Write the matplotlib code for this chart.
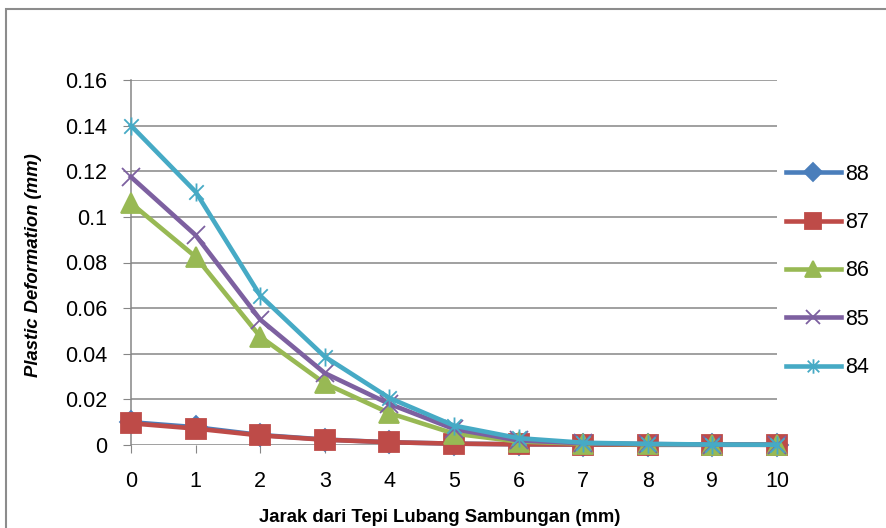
import matplotlib.pyplot as plt
import matplotlib.patches as patches
from matplotlib.path import Path

# -------------------------------
# Data
# -------------------------------
jarak = [0, 1, 2, 3, 4, 5, 6, 7, 8, 9, 10]
labels = ['88', '87', '86', '85', '84']

def_88 = [0.0100, 0.0078, 0.0044, 0.0024, 0.0012, 0.0006, 0.0003, 0.0002, 0.0001, 0.0001, 0.0001]
def_87 = [0.0095, 0.0072, 0.0042, 0.0023, 0.0012, 0.0006, 0.0003, 0.0002, 0.0001, 0.0001, 0.0001]
def_86 = [0.106, 0.0825, 0.0475, 0.027, 0.014, 0.005, 0.0015, 0.0006, 0.0003, 0.0002, 0.0001]
def_85 = [0.1175, 0.092, 0.055, 0.0315, 0.0180, 0.0070, 0.0020, 0.0008, 0.0004, 0.0002, 0.0001]
def_84 = [0.140, 0.111, 0.0655, 0.0387, 0.0206, 0.0085, 0.0030, 0.0010, 0.0005, 0.0002, 0.0001]

yticks = [0, 0.02, 0.04, 0.06, 0.08, 0.1, 0.12, 0.14, 0.16]
ytick_labels = ['0', '0.02', '0.04', '0.06', '0.08', '0.1', '0.12', '0.14', '0.16']

# Excel-like asterisk marker (x + vertical bar)
star = Path([(-1, -1), (1, 1), (-1, 1), (1, -1), (0, -1.25), (0, 1.25)],
            [Path.MOVETO, Path.LINETO, Path.MOVETO, Path.LINETO, Path.MOVETO, Path.LINETO])

series = [
    (def_88, '#4A7EBB', 'D', 11),
    (def_87, '#BE4B48', 's', 14),
    (def_86, '#98B954', '^', 14),
    (def_85, '#7D60A0', 'x', 13),
    (def_84, '#46AAC5', star, 13),
]

plt.rcParams['font.family'] = ['Liberation Sans', 'DejaVu Sans']

fig = plt.figure(figsize=(8.87, 5.28), dpi=100)
ax = fig.add_axes([131 / 887, 1 - 445 / 528, 646 / 887, 365 / 528])

# cornice esterna del grafico
fig.patches.append(patches.Rectangle((6 / 887, -0.05), 1.0, 1 - 9 / 528 + 0.05,
                                     transform=fig.transFigure, fill=False,
                                     edgecolor='#8C8C8C', linewidth=1.5))

for (vals, col, mk, ms), lab in zip(series, labels):
    ax.plot(jarak, vals, color=col, linewidth=3.3, marker=mk, markersize=ms,
            markerfacecolor=col, markeredgecolor=col, markeredgewidth=1.3,
            label=lab, clip_on=False, zorder=3)

ax.set_xlim(0, 10)
ax.set_ylim(0, 0.16)
ax.set_xticks(jarak)
ax.set_yticks(yticks)
ax.set_yticklabels(ytick_labels)
ax.tick_params(labelsize=15.5, length=6, color='#868686', pad=11)
ax.tick_params(axis='x', pad=13)
ax.yaxis.grid(True, color='#868686', linewidth=1.1)
ax.set_axisbelow(True)
for s in ['top', 'right', 'bottom']:
    ax.spines[s].set_visible(False)
ax.spines['left'].set_color('#868686')
ax.spines['left'].set_linewidth(1.1)

fig.text(440 / 887, 1 - 517 / 528, 'Jarak dari Tepi Lubang Sambungan (mm)',
         fontsize=13.3, fontweight='bold', ha='center', va='center')
fig.text(34 / 887, 1 - 265 / 528, 'Plastic Deformation (mm)', rotation=90,
         fontsize=13.3, fontweight='bold', fontstyle='italic', ha='center', va='center')

ax.legend(loc='center left', bbox_to_anchor=(786 / 887, 1 - 271 / 528),
          bbox_transform=fig.transFigure, frameon=False,
          fontsize=15.5, handlelength=2.55, handletextpad=0.2,
          labelspacing=1.27, borderaxespad=0, borderpad=0, markerscale=0.8)

fig.savefig('out.png', dpi=100)
